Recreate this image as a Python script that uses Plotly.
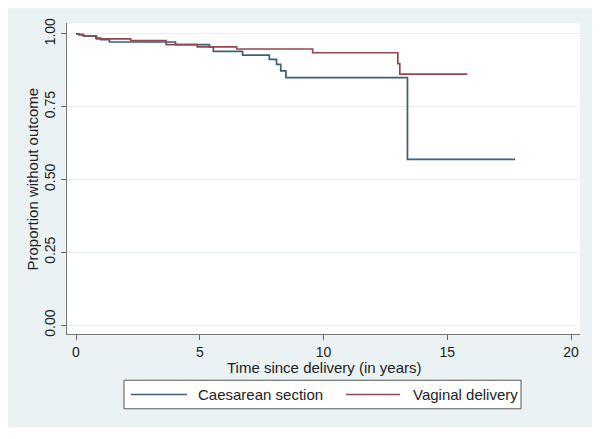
import plotly.graph_objects as go

# ---- data ----
series_names = ["Caesarean section", "Vaginal delivery"]

cs_time = [0.0, 0.12, 0.30, 0.80, 1.00, 1.35, 4.02, 5.39, 5.55, 6.73, 7.81, 8.10, 8.27, 8.48, 13.39, 17.74]
cs_surv = [1.000, 0.997, 0.993, 0.985, 0.980, 0.972, 0.963, 0.955, 0.940, 0.927, 0.912, 0.895, 0.873, 0.850, 0.569, 0.569]

vd_time = [0.0, 0.12, 0.30, 0.83, 2.21, 3.64, 4.90, 6.49, 9.56, 13.00, 13.08, 15.81]
vd_surv = [1.000, 0.997, 0.993, 0.983, 0.977, 0.963, 0.955, 0.948, 0.935, 0.898, 0.862, 0.862]

x_ticks = [0, 5, 10, 15, 20]
y_ticks = [0.0, 0.25, 0.5, 0.75, 1.0]
y_tick_labels = ["0.00", "0.25", "0.50", "0.75", "1.00"]

x_title = "Time since delivery (in years)"
y_title = "Proportion without outcome"

colors = ["#3b5f78", "#93474f"]
FONT = "Liberation Sans, Arial, sans-serif"

fig = go.Figure()
fig.add_trace(go.Scatter(x=cs_time, y=cs_surv, mode="lines", line_shape="hv",
                         line=dict(color=colors[0], width=1.7), name=series_names[0], showlegend=False))
fig.add_trace(go.Scatter(x=vd_time, y=vd_surv, mode="lines", line_shape="hv",
                         line=dict(color=colors[1], width=1.7), name=series_names[1], showlegend=False))

shapes = [
    # graph region (light bluish)
    dict(type="rect", xref="paper", yref="paper", x0=-0.115, x1=1.0292, y0=-0.3006, y1=1.0475,
         fillcolor="#EAF2F3", line=dict(width=0), layer="below"),
    # plot region (white)
    dict(type="rect", xref="paper", yref="paper", x0=0, x1=1, y0=0, y1=1,
         fillcolor="white", line=dict(width=0), layer="below"),
    # legend box
    dict(type="rect", xref="paper", yref="paper", x0=0.1111, x1=0.885, y0=-0.2405, y1=-0.1487,
         fillcolor="white", line=dict(color="#555555", width=1)),
]
leg_y = -0.1946
leg_lines = [(0.1248, 0.2339), (0.5439, 0.6491)]
leg_text_x = [0.2515, 0.6706]
for (a, b), c in zip(leg_lines, colors):
    shapes.append(dict(type="line", xref="paper", yref="paper", x0=a, x1=b, y0=leg_y, y1=leg_y,
                       line=dict(color=c, width=1.5)))

annotations = [
    dict(text=x_title, xref="paper", yref="paper", x=0.501, y=-0.1076, showarrow=False,
         xanchor="center", yanchor="middle", font=dict(size=15, color="#222", family=FONT)),
    dict(text=y_title, xref="paper", yref="paper", x=-0.0663, y=0.5, showarrow=False, textangle=-90,
         xanchor="center", yanchor="middle", font=dict(size=15, color="#222", family=FONT)),
]
for tx, name in zip(leg_text_x, series_names):
    annotations.append(dict(text=name, xref="paper", yref="paper", x=tx, y=leg_y, showarrow=False,
                            xanchor="left", yanchor="middle", font=dict(size=15, color="#222", family=FONT)))

# the page body has an 8px margin, so the figure is 8px smaller and all positions shift by -8
fig.update_layout(
    width=592, height=431,
    margin=dict(l=59, r=20, t=10, b=105),
    paper_bgcolor="white", plot_bgcolor="rgba(0,0,0,0)",
    shapes=shapes, annotations=annotations,
    font=dict(family=FONT, size=14, color="#222"),
    xaxis=dict(range=[-0.364, 20.36], tickvals=x_ticks, ticks="outside", ticklen=5, tickcolor="#666",
               showgrid=False, zeroline=False, showline=True, linecolor="#777", linewidth=1,
               tickfont=dict(size=14, color="#222")),
    yaxis=dict(range=[-0.0304, 1.0372], tickvals=y_ticks, ticktext=y_tick_labels, tickangle=-90,
               ticks="outside", ticklen=5, tickcolor="#666",
               showgrid=True, gridcolor="#E6EEF0", gridwidth=1, zeroline=False,
               showline=True, linecolor="#777", linewidth=1, tickfont=dict(size=14, color="#222")),
)

fig.write_html("out.html")
